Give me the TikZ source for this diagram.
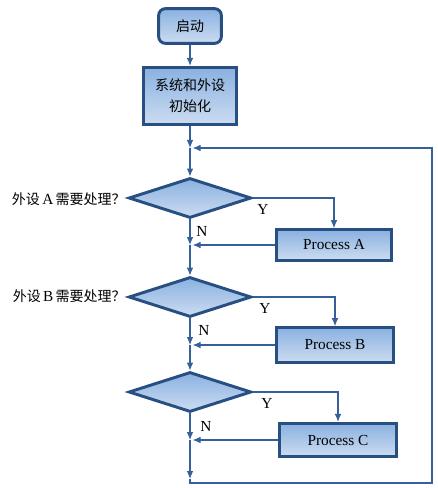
\documentclass[tikz,border=0pt]{standalone}
\usepackage{fontspec}
\setmainfont{Liberation Serif}
\newfontfamily\cjk{Noto Sans CJK SC}
\usetikzlibrary{arrows.meta, positioning, shapes.geometric}

\definecolor{edgeblue}{HTML}{284F82}
\definecolor{lineblue}{HTML}{35609A}
\definecolor{fillTop}{HTML}{8AB1E0}
\definecolor{fillBot}{HTML}{CCDCF1}

\begin{document}
\begin{tikzpicture}[x=0.75pt, y=-0.75pt,
    every node/.style={font=\fontsize{10.5}{15.75}\selectfont, inner sep=0pt},
    procbox/.style={draw=edgeblue, line width=2.2pt, top color=fillTop, bottom color=fillBot},
    decide/.style={diamond, draw=edgeblue, line width=2.2pt, top color=fillTop, bottom color=fillBot,
        minimum width=92pt, minimum height=30pt},
    flow/.style={draw=lineblue, line width=0.8pt, -{Latex[length=6pt, width=5pt]}},
    latin/.style={font=\fontsize{11.5}{14}\selectfont}]
    \useasboundingbox (0,0) rectangle (438,488);

    %---------------- Start / Init ----------------%
    \node[procbox, rounded corners=5pt, minimum width=47pt, minimum height=26pt] (start) at (190,26) {\cjk 启动};
    \node[procbox, minimum width=70pt, minimum height=43pt, align=center] (init) at (190,96) {\cjk 系统和外设\\\cjk 初始化};
    \draw[flow] (start) -- (init);

    %---------------- Decisions ----------------%
    \node[decide] (dA) at (190,198) {};
    \node[decide] (dB) at (190,297) {};
    \node[decide] (dC) at (190,392) {};
    \node[anchor=east] at (126,199) {\cjk 外设\,{\rmfamily\fontsize{11.5}{14}\selectfont A}\,\cjk 需要处理？};
    \node[anchor=east] at (126,296) {\cjk 外设\,{\rmfamily\fontsize{11.5}{14}\selectfont B}\,\cjk 需要处理？};

    %---------------- Processes ----------------%
    \node[procbox, latin, minimum width=86pt, minimum height=23pt] (pA) at (334,245) {Process A};
    \node[procbox, latin, minimum width=88pt, minimum height=26pt] (pB) at (335,345) {Process B};
    \node[procbox, latin, minimum width=88pt, minimum height=25pt] (pC) at (338,440) {Process C};

    % junctions on the main line
    \coordinate (loopin) at (190,148);
    \coordinate (jA) at (190,245);
    \coordinate (jB) at (190,345);
    \coordinate (jC) at (190,440);
    \coordinate (bot) at (190,479);
    \coordinate (rtop) at (432,148);

    % main line
    \draw[flow] (init) -- (loopin);
    \draw[flow] (loopin) -- (dA.north);
    \draw[flow] (dA.south) -- (jA);
    \draw[flow] (jA) -- (dB.north);
    \draw[flow] (dB.south) -- (jB);
    \draw[flow] (jB) -- (dC.north);
    \draw[flow] (dC.south) -- (jC);
    \draw[flow] (jC) -- (bot);

    % Y branches
    \draw[flow] (dA.east) -| (pA.north);
    \draw[flow] (dB.east) -| (pB.north);
    \draw[flow] (dC.east) -| (pC.north);
    \node[latin] at (263,209) {Y};
    \node[latin] at (265,308) {Y};
    \node[latin] at (267,403) {Y};

    % back to main line
    \draw[flow, shorten >=2pt] (pA) -- (jA);
    \draw[flow, shorten >=2pt] (pB) -- (jB);
    \draw[flow, shorten >=2pt] (pC) -- (jC);
    \node[latin] at (202,231) {N};
    \node[latin] at (204,330) {N};
    \node[latin] at (206,426) {N};

    % loop
    \draw[flow, shorten >=2pt] (bot) -- ++(0,4) -| (rtop) -- (loopin);
\end{tikzpicture}
\end{document}
